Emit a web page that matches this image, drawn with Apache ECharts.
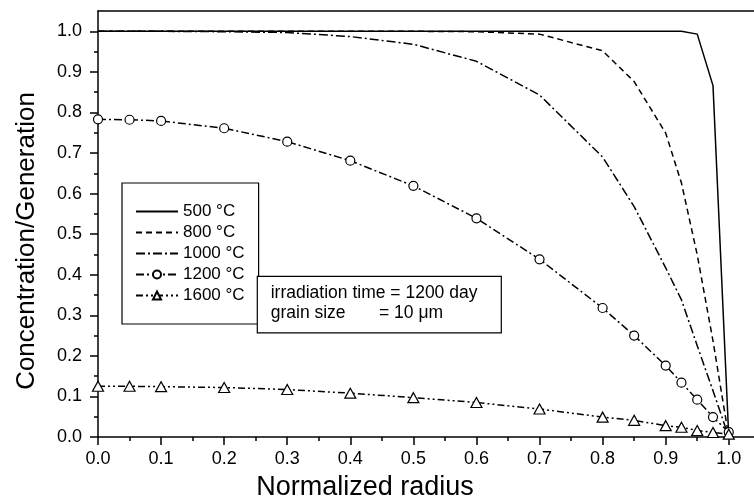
<!DOCTYPE html>
<html>
<head>
<meta charset="utf-8">
<script src="https://cdn.jsdelivr.net/npm/echarts@6/dist/echarts.min.js"></script>
<style>
  html, body { margin: 0; padding: 0; background: #fff; }
  #chart { width: 754px; height: 502px; }
</style>
</head>
<body>
<div id="chart"></div>
<script>
// normalized radius sample points
var radius = [0, 0.05, 0.1, 0.2, 0.3, 0.4, 0.5, 0.6, 0.7, 0.8, 0.85, 0.9, 0.925, 0.95, 0.975, 1.0];
// concentration / generation per temperature
var c500 = [1, 1, 1, 1, 1, 1, 1, 1, 1, 1, 1, 1, 1.0, 0.993, 0.866, 0.0];
var c800 = [1, 1, 1, 1, 1, 1, 1, 0.999, 0.993, 0.952, 0.876, 0.749, 0.626, 0.449, 0.237, 0.0];
var c1000 = [1, 1, 1, 0.999, 0.997, 0.987, 0.968, 0.926, 0.843, 0.69, 0.568, 0.417, 0.338, 0.225, 0.114, 0.0];
var c1200 = [0.783, 0.782, 0.779, 0.761, 0.728, 0.681, 0.619, 0.539, 0.438, 0.318, 0.25, 0.176, 0.134, 0.092, 0.049, 0.012];
var c1600 = [0.125, 0.125, 0.124, 0.122, 0.117, 0.108, 0.097, 0.085, 0.069, 0.049, 0.041, 0.028, 0.024, 0.016, 0.011, 0.007];

var seriesNames = ["500 °C", "800 °C", "1000 °C", "1200 °C", "1600 °C"];

// tick positions
var xTicks = [0, 0.1, 0.2, 0.3, 0.4, 0.5, 0.6, 0.7, 0.8, 0.9, 1.0];
var xMinor = [0.05, 0.15, 0.25, 0.35, 0.45, 0.55, 0.65, 0.75, 0.85, 0.95];
var yTicks = [0, 0.1, 0.2, 0.3, 0.4, 0.5, 0.6, 0.7, 0.8, 0.9, 1.0];
var yMinor = [0.05, 0.15, 0.25, 0.35, 0.45, 0.55, 0.65, 0.75, 0.85, 0.95];

var FONT = "'Liberation Sans', Arial, sans-serif";

function pairs(ys) {
  return radius.map(function (x, i) { return [x, ys[i]]; });
}

function lineSeries(name, ys, dash, symbol, symbolSize) {
  return {
    name: name,
    type: "line",
    data: pairs(ys),
    symbol: symbol || "none",
    symbolSize: symbolSize || 0,
    showSymbol: !!symbol,
    color: "#000",
    lineStyle: { color: "#000", width: 1.5, type: dash },
    itemStyle: { color: "#fff", borderColor: "#000", borderWidth: 1.2 },
    emphasis: { disabled: true },
    animation: false,
  };
}

var chart = echarts.init(document.getElementById("chart"));
var axisLineStyle = { color: "#000", width: 1.5 };
// no marker in the legend for the plain lines
var noMark = { opacity: 0 };

var option = {
  backgroundColor: "#fff",
  animation: false,
  grid: { left: 98, right: 0, top: 11, bottom: 65 },
  xAxis: [
    {
      type: "value", min: 0, max: 1.04, position: "bottom",
      axisLine: { show: true, onZero: false, lineStyle: axisLineStyle },
      axisTick: { show: true, length: 8, lineStyle: axisLineStyle, customValues: xTicks },
      axisLabel: {
        customValues: xTicks, margin: 13, fontSize: 18, color: "#000", fontFamily: FONT,
        formatter: function (v) { return v.toFixed(1); },
      },
      splitLine: { show: false },
    },
    {
      type: "value", min: 0, max: 1.04, position: "bottom",
      axisLine: { show: false },
      axisTick: { show: true, length: 4, lineStyle: axisLineStyle, customValues: xMinor },
      axisLabel: { show: false },
      splitLine: { show: false },
    },
    {
      type: "value", min: 0, max: 1.04, position: "top",
      axisLine: { show: true, onZero: false, lineStyle: axisLineStyle },
      axisTick: { show: false },
      axisLabel: { show: false },
      splitLine: { show: false },
    },
  ],
  yAxis: [
    {
      type: "value", min: 0, max: 1.05, position: "left",
      axisLine: { show: true, onZero: false, lineStyle: axisLineStyle },
      axisTick: { show: true, length: 8, lineStyle: axisLineStyle, customValues: yTicks },
      axisLabel: {
        customValues: yTicks, margin: 16, fontSize: 18, color: "#000", fontFamily: FONT,
        formatter: function (v) { return v.toFixed(1); },
      },
      splitLine: { show: false },
    },
    {
      type: "value", min: 0, max: 1.05, position: "left",
      axisLine: { show: false },
      axisTick: { show: true, length: 4, lineStyle: axisLineStyle, customValues: yMinor },
      axisLabel: { show: false },
      splitLine: { show: false },
    },
  ],
  legend: {
    orient: "vertical",
    left: 122,
    top: 183,
    padding: [20, 14, 20, 13],
    itemWidth: 42,
    itemHeight: 10,
    itemGap: 4,
    borderColor: "#000",
    borderWidth: 1.2,
    backgroundColor: "#fff",
    selectedMode: false,
    textStyle: { fontSize: 17, color: "#000", fontFamily: FONT },
    data: [
      { name: seriesNames[0], itemStyle: noMark },
      { name: seriesNames[1], itemStyle: noMark },
      { name: seriesNames[2], itemStyle: noMark },
      { name: seriesNames[3] },
      { name: seriesNames[4] },
    ],
  },
  graphic: [
    {
      type: "rect", left: 256.7, top: 275.7, z: 100,
      shape: { width: 244, height: 56.6 },
      style: { fill: "#fff", stroke: "#000", lineWidth: 1.2 },
    },
    {
      type: "text", x: 270.7, y: 293, z: 101,
      style: { text: "irradiation time = 1200 day", fontSize: 17.5, fontFamily: FONT, fill: "#000", verticalAlign: "middle" },
    },
    {
      type: "text", x: 270.7, y: 313, z: 101,
      style: { text: "grain size", fontSize: 17.5, fontFamily: FONT, fill: "#000", verticalAlign: "middle" },
    },
    {
      type: "text", x: 379, y: 313, z: 101,
      style: { text: "= 10 μm", fontSize: 17.5, fontFamily: FONT, fill: "#000", verticalAlign: "middle" },
    },
    {
      type: "text", x: 27, y: 241, rotation: Math.PI / 2,
      style: { text: "Concentration/Generation", fontSize: 26, fontFamily: FONT, fill: "#000", align: "center", verticalAlign: "middle" },
    },
    {
      type: "text", x: 365, y: 488,
      style: { text: "Normalized radius", fontSize: 27, fontFamily: FONT, fill: "#000", align: "center", verticalAlign: "middle" },
    },
  ],
  series: [
    lineSeries(seriesNames[0], c500, "solid"),
    lineSeries(seriesNames[1], c800, [6, 4]),
    lineSeries(seriesNames[2], c1000, [9, 3, 2, 3]),
    lineSeries(seriesNames[3], c1200, [8, 3, 2, 3], "circle", 9),
    lineSeries(seriesNames[4], c1600, [7, 3, 2, 3, 2, 3], "triangle", [11, 10]),
  ],
};

chart.setOption(option, true);
</script>
</body>
</html>
